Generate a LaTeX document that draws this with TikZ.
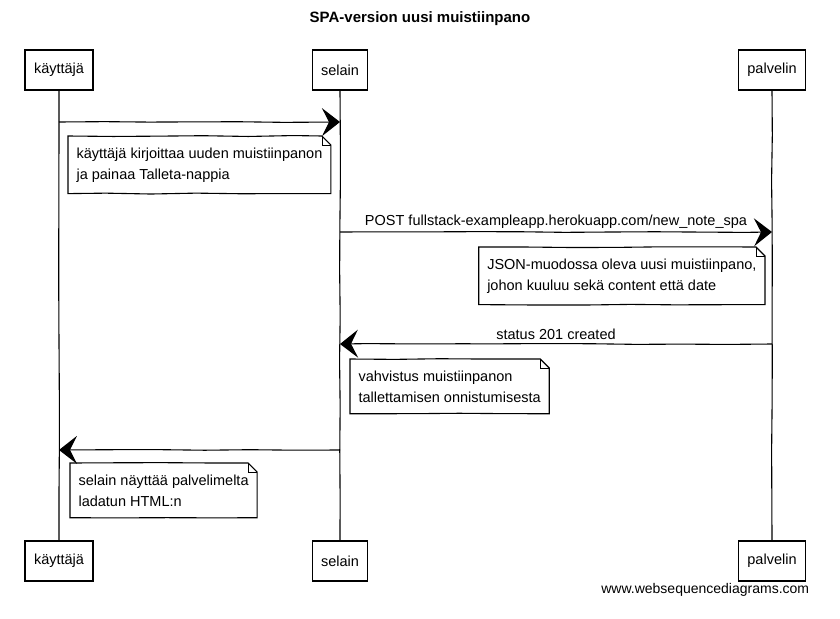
\documentclass[tikz,border=0pt]{standalone}
\usepackage{fontspec}
\setmainfont{Liberation Sans}
\usetikzlibrary{arrows.meta,decorations.pathmorphing}

\begin{document}
\pgfmathsetseed{11}
\begin{tikzpicture}[x=1pt,y=-1pt, line width=1.1pt,
  font=\fontsize{14.5}{21}\selectfont,
  sketch/.style = {decorate, decoration={random steps,segment length=45pt,amplitude=0.5pt}},
  actor/.style = {draw, minimum height=40pt, inner xsep=9pt},
  note/.style = {align=left, inner xsep=8pt, inner ysep=11pt, anchor=north west},
  msg/.style = {-{Stealth[length=18pt,width=28pt,inset=7pt]}, sketch}]
\useasboundingbox (0,0) rectangle (840,618);

\node[font=\fontsize{15}{18}\selectfont\bfseries] (title) at (420,19) {SPA-version uusi muistiinpano};

% participants
\node[actor] (k1) at (59,70) {käyttäjä};
\node[actor] (s1) at (340,70) {selain};
\node[actor] (p1) at (772,70) {palvelin};
\node[actor] (k2) at (59,561) {käyttäjä};
\node[actor] (s2) at (340,561) {selain};
\node[actor] (p2) at (772,561) {palvelin};

\draw[sketch] (k1) -- (k2);
\draw[sketch] (s1) -- (s2);
\draw[sketch] (p1) -- (p2);

% messages
\draw[msg] (k1 |- 0,122) -- (s1 |- 0,122);
\node[note] (note1) at (68,136) {käyttäjä kirjoittaa uuden muistiinpanon\\ja painaa Talleta-nappia};

\draw[msg] (s1 |- 0,232) -- node[above] {POST fullstack-exampleapp.herokuapp.com/new\_note\_spa} (p1 |- 0,232);
\node[note,anchor=north east] (note2) at (765,247) {JSON-muodossa oleva uusi muistiinpano,\\johon kuuluu sekä content että date};

\draw[msg] (p1 |- 0,344) -- node[above] {status 201 created} (s1 |- 0,344);
\node[note] (note3) at (350,359) {vahvistus muistiinpanon\\tallettamisen onnistumisesta};

\draw[msg] (s1 |- 0,450) -- (k1 |- 0,450);
\node[note] (note4) at (70,463) {selain näyttää palvelimelta\\ladatun HTML:n};

\foreach \n in {note1,note2,note3,note4} {
  \draw[sketch] (\n.north west) -- ([xshift=-9pt]\n.north east) -- ([yshift=-9pt]\n.north east) -- (\n.south east) -- (\n.south west) -- cycle;
  \draw[line width=0.7pt] ([xshift=-9pt]\n.north east) |- ([yshift=-9pt]\n.north east);
}

\node[anchor=east,font=\fontsize{14}{16}\selectfont] (web) at (813,590) {www.websequencediagrams.com};
\end{tikzpicture}
\end{document}
